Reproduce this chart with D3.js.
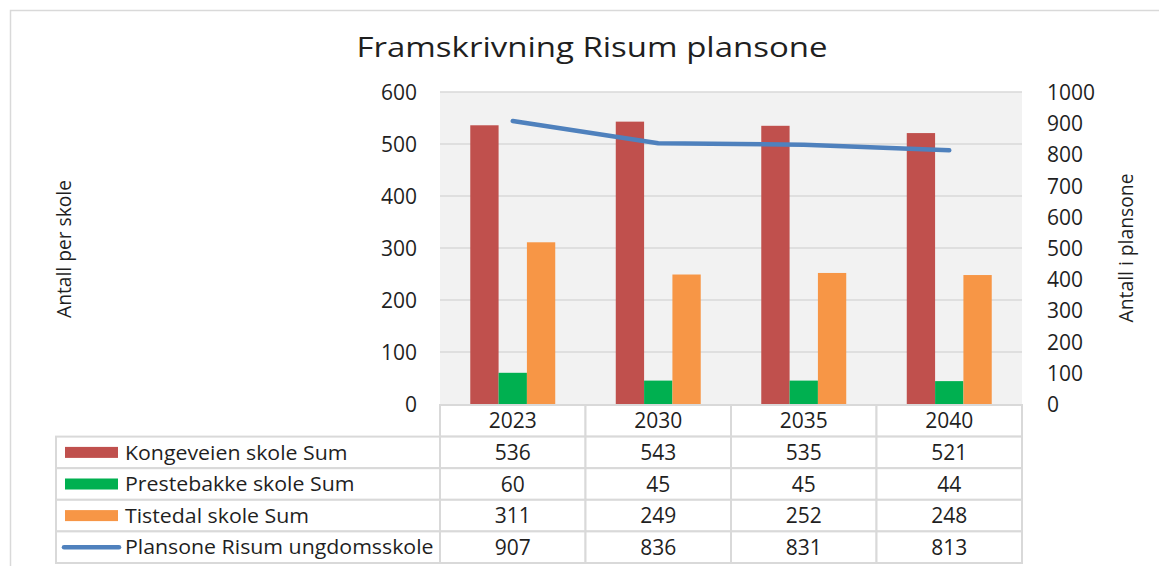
<!DOCTYPE html>
<html><head><meta charset="utf-8">
<script src="https://cdn.jsdelivr.net/npm/d3@7"></script>
<style>
html,body{margin:0;padding:0;background:#fff;}
svg text{font-family:"Open Sans",sans-serif;fill:#1f1f1f;}
</style></head>
<body>
<svg id="c" width="1159" height="566"></svg>
<script>
const years = ["2023","2030","2035","2040"];
const barSeries = ["Kongeveien skole Sum","Prestebakke skole Sum","Tistedal skole Sum"];
const kongeveien = [536,543,535,521];
const prestebakke = [60,45,45,44];
const tistedal = [311,249,252,248];
const lineSeries = "Plansone Risum ungdomsskole";
const plansone = [907,836,831,813];
const leftTicks = [0,100,200,300,400,500,600];
const rightTicks = [0,100,200,300,400,500,600,700,800,900,1000];
const colors = {"Kongeveien skole Sum":"#C0504D","Prestebakke skole Sum":"#00B050","Tistedal skole Sum":"#F79646"};
const lineColor = "#4F81BD";
const barValues = [kongeveien, prestebakke, tistedal];

const svg = d3.select("#c");
const L = 440, R = 1022, T = 92, B = 404;

// outer border (top & left)
svg.append("path").attr("d","M10.5,566 V10.5 H1159").attr("fill","none").attr("stroke","#D9D9D9").attr("stroke-width",1.5);

// title
svg.append("text").attr("x",592).attr("y",57).attr("text-anchor","middle")
  .attr("font-size",27).attr("textLength",471).attr("lengthAdjust","spacingAndGlyphs")
  .text("Framskrivning Risum plansone");

const x0 = d3.scaleBand().domain(years).range([L,R]);
const bw = x0.bandwidth();
const x1 = d3.scaleBand().domain(barSeries).range([bw*0.208, bw*0.792]);
const yL = d3.scaleLinear().domain([0,600]).range([B,T]);
const yR = d3.scaleLinear().domain([0,1000]).range([B,T]);

// plot background
svg.append("rect").attr("x",L).attr("y",T).attr("width",R-L).attr("height",B-T).attr("fill","#F2F2F2");

// gridlines
svg.append("g").selectAll("line").data(leftTicks.filter(d=>d>0)).join("line")
  .attr("x1",L).attr("x2",R).attr("y1",d=>yL(d)).attr("y2",d=>yL(d))
  .attr("stroke","#D9D9D9").attr("stroke-width",1.5);

// left axis
const axL = svg.append("g").attr("transform",`translate(${417},0)`)
  .call(d3.axisLeft(yL).tickValues(leftTicks).tickFormat(d3.format("d")).tickSize(0).tickPadding(0));
axL.select(".domain").remove();
axL.selectAll("text").attr("font-size",21).attr("font-family","Open Sans").attr("fill","#1f1f1f").attr("dy","0.36em");

// right axis
const axR = svg.append("g").attr("transform",`translate(${1047},0)`)
  .call(d3.axisRight(yR).tickValues(rightTicks).tickFormat(d3.format("d")).tickSize(0).tickPadding(0));
axR.select(".domain").remove();
axR.selectAll("text").attr("font-size",21).attr("font-family","Open Sans").attr("fill","#1f1f1f").attr("dy","0.36em");

// axis titles
svg.append("text").attr("transform","translate(71,249) rotate(-90)").attr("text-anchor","middle")
  .attr("font-size",20).attr("textLength",138).attr("lengthAdjust","spacingAndGlyphs").text("Antall per skole");
svg.append("text").attr("transform","translate(1133,248) rotate(-90)").attr("text-anchor","middle")
  .attr("font-size",20).attr("textLength",149).attr("lengthAdjust","spacingAndGlyphs").text("Antall i plansone");

// bars
const bars = svg.append("g");
barSeries.forEach((s,si)=>{
  bars.append("g").selectAll("rect").data(years.map((y,i)=>({y,v:barValues[si][i]}))).join("rect")
    .attr("x",d=>x0(d.y)+x1(s)).attr("width",x1.bandwidth())
    .attr("y",d=>yL(d.v)).attr("height",d=>yL(0)-yL(d.v))
    .attr("fill",colors[s]);
});

// line
const line = d3.line().x((d,i)=>x0(years[i])+bw/2).y(d=>yR(d));
svg.append("path").datum(plansone).attr("d",line).attr("fill","none")
  .attr("stroke",lineColor).attr("stroke-width",4.5).attr("stroke-linecap","round").attr("stroke-linejoin","round");

// data table
const tableLeft = 56;
const rowLabels = barSeries.concat([lineSeries]);
const rowValues = barValues.concat([plansone]);
const rows = d3.scaleBand().domain(["hdr"].concat(rowLabels)).range([405,563]);
const rh = rows.bandwidth();
const tg = svg.append("g");
const bc = "#D9D9D9";
// header row cells
years.forEach(y=>{
  tg.append("rect").attr("x",x0(y)).attr("y",rows("hdr")).attr("width",bw).attr("height",rh)
    .attr("fill","#fff").attr("stroke",bc).attr("stroke-width",2);
  tg.append("text").attr("x",x0(y)+bw/2).attr("y",rows("hdr")+rh/2).attr("dy","0.36em")
    .attr("text-anchor","middle").attr("font-size",21).text(y);
});
rowLabels.forEach((lab,ri)=>{
  const ry = rows(lab);
  tg.append("rect").attr("x",tableLeft).attr("y",ry).attr("width",L-tableLeft).attr("height",rh)
    .attr("fill","#fff").attr("stroke",bc).attr("stroke-width",2);
  if (ri<3) {
    tg.append("rect").attr("x",65).attr("y",ry+rh/2-5.5).attr("width",53).attr("height",11).attr("fill",colors[lab]);
  } else {
    tg.append("line").attr("x1",64).attr("x2",119).attr("y1",ry+rh/2).attr("y2",ry+rh/2)
      .attr("stroke",lineColor).attr("stroke-width",4.5).attr("stroke-linecap","round");
  }
  const t = tg.append("text").attr("x",125).attr("y",ry+rh/2).attr("dy","0.36em").attr("font-size",20).text(lab);
  // stretch labels slightly to match the wider original typeface
  const w = t.node().getComputedTextLength();
  t.attr("textLength", w*1.065).attr("lengthAdjust","spacingAndGlyphs");
  years.forEach((y,i)=>{
    tg.append("rect").attr("x",x0(y)).attr("y",ry).attr("width",bw).attr("height",rh)
      .attr("fill","#fff").attr("stroke",bc).attr("stroke-width",2);
    tg.append("text").attr("x",x0(y)+bw/2).attr("y",ry+rh/2).attr("dy","0.36em")
      .attr("text-anchor","middle").attr("font-size",21).text(rowValues[ri][i]);
  });
});
</script>
</body></html>
